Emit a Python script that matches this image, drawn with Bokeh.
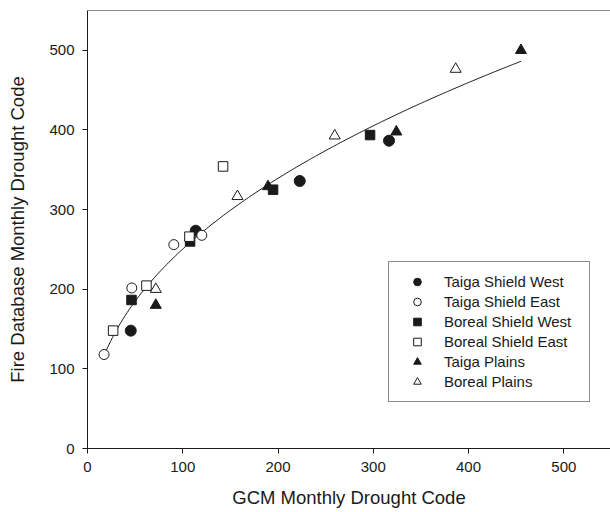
import numpy as np
from bokeh.plotting import figure
from bokeh.models import Legend, LegendItem, Span, FixedTicker
from bokeh.embed import file_html
from bokeh.resources import INLINE

# --- data ---
tsw_x = [45.4, 113.6, 222.8, 316.5]
tsw_y = [148.0, 273.5, 335.9, 386.5]
tse_x = [17.4, 46.5, 90.6, 120.0]
tse_y = [118.0, 201.6, 256.0, 267.7]
bsw_x = [46.2, 107.7, 194.8, 296.6]
bsw_y = [186.5, 260.0, 325.0, 393.6]
bse_x = [26.9, 61.9, 107.0, 142.3]
bse_y = [148.0, 204.5, 266.0, 354.2]
tp_x = [71.7, 189.5, 324.2, 455.0]
tp_y = [180.0, 329.0, 397.7, 500.0]
bp_x = [71.7, 157.4, 259.5, 386.5]
bp_y = [200.0, 316.6, 392.7, 476.4]

series_names = ["Taiga Shield West", "Taiga Shield East", "Boreal Shield West",
                "Boreal Shield East", "Taiga Plains", "Boreal Plains"]
ticks = [0, 100, 200, 300, 400, 500]

INK = "#1a1a1a"
FONT = "Liberation Sans"

p = figure(width=610, height=512, x_range=(0, 549), y_range=(0, 550),
           output_backend="svg", toolbar_location=None,
           min_border_left=87, min_border_right=0, min_border_top=10, min_border_bottom=64)
p.outline_line_color = None
p.grid.visible = False
p.background_fill_color = "white"
p.border_fill_color = "white"

# power-law fit through all points (y = a * x^b)
all_x = np.array(tsw_x + tse_x + bsw_x + bse_x + tp_x + bp_x)
all_y = np.array(tsw_y + tse_y + bsw_y + bse_y + tp_y + bp_y)
b, ln_a = np.polyfit(np.log(all_x), np.log(all_y), 1)
fx = np.linspace(all_x.min(), all_x.max(), 200)
fy = np.exp(ln_a) * fx ** b
p.line(fx, fy, line_color=INK, line_width=1)

r1 = p.scatter(tsw_x, tsw_y, marker="circle", size=11, fill_color=INK, line_color=INK)
r2 = p.scatter(tse_x, tse_y, marker="circle", size=10, fill_color="white", line_color=INK, line_width=1)
r3 = p.scatter(bsw_x, bsw_y, marker="square", size=9.5, fill_color=INK, line_color=INK)
r4 = p.scatter(bse_x, bse_y, marker="square", size=9.5, fill_color="white", line_color=INK, line_width=1)
r5 = p.scatter(tp_x, tp_y, marker="triangle", size=11, fill_color=INK, line_color=INK)
r6 = p.scatter(bp_x, bp_y, marker="triangle", size=11, fill_color="white", line_color=INK, line_width=1)

# top frame line
p.add_layout(Span(location=550, dimension="width", line_color=INK, line_width=1))

for ax in (p.xaxis[0], p.yaxis[0]):
    ax.ticker = FixedTicker(ticks=ticks)
    ax.minor_tick_line_color = None
    ax.major_tick_in = 0
    ax.major_tick_out = 5
    ax.axis_line_color = INK
    ax.major_tick_line_color = INK
    ax.major_label_text_font = FONT
    ax.major_label_text_font_size = "15px"
    ax.major_label_text_color = INK
    ax.axis_label_text_font = FONT
    ax.axis_label_text_font_size = "18.5px"
    ax.axis_label_text_font_style = "normal"
    ax.axis_label_text_color = INK

p.xaxis.axis_label = "GCM Monthly Drought Code"
p.yaxis.axis_label = "Fire Database Monthly Drought Code"
p.xaxis.major_label_standoff = 8
p.yaxis.major_label_standoff = 8
p.xaxis.axis_label_standoff = 12
p.yaxis.axis_label_standoff = 18

legend = Legend(items=[LegendItem(label=n, renderers=[r]) for n, r in
                       zip(series_names, [r1, r2, r3, r4, r5, r6])],
                location=(301, 46))
legend.border_line_color = INK
legend.border_line_width = 1
legend.background_fill_color = "white"
legend.background_fill_alpha = 1
legend.label_text_font = FONT
legend.label_text_font_size = "15px"
legend.label_text_color = INK
legend.glyph_width = 36
legend.glyph_height = 19
legend.label_height = 19
legend.label_width = 135
legend.spacing = 1
legend.padding = 10
legend.margin = 0
legend.label_standoff = 9
p.add_layout(legend)

open("out.html", "w").write(file_html(p, INLINE))
